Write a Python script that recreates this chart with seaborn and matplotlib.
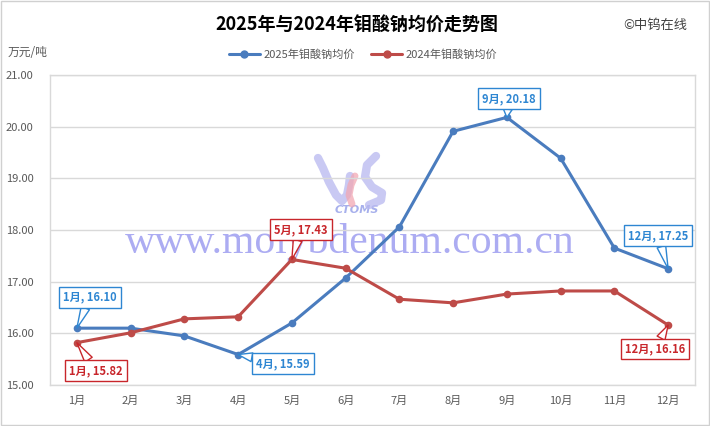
import numpy as np
import pandas as pd
import matplotlib
matplotlib.use("Agg")
import matplotlib.pyplot as plt
import seaborn as sns

months = ["1月", "2月", "3月", "4月", "5月", "6月", "7月", "8月", "9月", "10月", "11月", "12月"]
price_2025 = [16.10, 16.10, 15.95, 15.59, 16.20, 17.07, 18.06, 19.91, 20.18, 19.39, 17.65, 17.25]
price_2024 = [15.82, 16.01, 16.28, 16.32, 17.43, 17.26, 16.66, 16.59, 16.76, 16.82, 16.82, 16.16]
series_names = ["2025年钼酸钠均价", "2024年钼酸钠均价"]

# which points get a callout, and where the box sits (pixel offset from the point)
callouts_2025 = {0: (13, 31), 3: (45, -9), 8: (2, 19), 11: (-10, 33)}
callouts_2024 = {0: (19, -28), 4: (9, 30), 11: (-13, -24)}

blue = "#4A7CBE"
red = "#BE4B48"
blue_txt = "#2E86D2"
red_txt = "#C8262B"

df = pd.DataFrame({
    "month": months * 2,
    "price": price_2025 + price_2024,
    "series": [series_names[0]] * 12 + [series_names[1]] * 12,
})
df["idx"] = df.groupby("series").cumcount()

sns.set_style("white")
plt.rcParams["font.family"] = ["Noto Sans CJK SC", "DejaVu Sans"]

fig = plt.figure(figsize=(7.1, 4.26), dpi=100)
ax = fig.add_axes([50 / 710, 41 / 426, 645 / 710, 310 / 426])

# watermark behind the data
ax.text(0.465, 0.46, "www.molybdenum.com.cn", transform=ax.transAxes,
        ha="center", va="center", fontsize=30, family="Liberation Serif",
        color="#9090EE", alpha=0.75, zorder=0)
ax.text(0.475, 0.565, "CTOMS", transform=ax.transAxes, ha="center", va="center",
        fontsize=8, fontstyle="italic", fontweight="bold", family="DejaVu Sans",
        color="#A7B0EC", zorder=0)

# rough CTOMS logo strokes (pixel coords of the picture, converted to axes fractions)
def logo_stroke(pts, color, lw):
    xs = [(p[0] - 50) / 645 for p in pts]
    ys = [(385 - p[1]) / 310 for p in pts]
    ax.plot(xs, ys, transform=ax.transAxes, color=color, lw=lw, alpha=0.75,
            solid_capstyle="round", solid_joinstyle="round", zorder=0)

logo_stroke([(318, 158), (323, 168), (329, 182), (336, 195), (342, 201), (347, 195),
             (349, 185), (350, 176)], "#B8B8F0", 6)
logo_stroke([(352, 204), (349, 195), (351, 185), (355, 176)], "#F2A8B4", 5)
logo_stroke([(376, 156), (367, 165), (365, 177), (372, 187), (382, 193), (381, 200),
             (369, 205)], "#B8B8F0", 6)

sns.lineplot(data=df, x="idx", y="price", hue="series", palette=[blue, red],
             marker="o", markersize=5.5, markeredgewidth=0, linewidth=2.2,
             ax=ax, legend=False, zorder=3)

def add_callouts(values, spots, edge, txt):
    for i, (dx, dy) in spots.items():
        ax.annotate(f"{months[i]}, {values[i]:.2f}", xy=(i, values[i]),
                    xytext=(dx, dy), textcoords="offset pixels",
                    ha="center", va="center", fontsize=8, fontweight="bold",
                    color=txt, zorder=5,
                    bbox=dict(boxstyle="square,pad=0.35", fc="white", ec=edge, lw=1),
                    arrowprops=dict(arrowstyle="wedge,tail_width=0.8,shrink_factor=0.5",
                                    fc="white", ec=edge, lw=1, shrinkA=0, shrinkB=0))

add_callouts(price_2025, callouts_2025, blue_txt, blue_txt)
add_callouts(price_2024, callouts_2024, red_txt, red_txt)

ax.set_xlim(-0.5, 11.5)
ax.set_ylim(15, 21)
ax.set_xticks(range(12))
ax.set_xticklabels(months)
ax.set_yticks(np.arange(15, 21.5, 1))
ax.set_yticklabels([f"{v:.2f}" for v in np.arange(15, 21.5, 1)])
ax.tick_params(axis="both", labelsize=8, colors="#595959", length=0)
ax.tick_params(axis="x", pad=8)
ax.tick_params(axis="y", pad=12)
ax.set_xlabel("")
ax.set_ylabel("")
ax.grid(axis="y", color="#D9D9D9", lw=1)
for s in ax.spines.values():
    s.set_color("#D9D9D9")
    s.set_linewidth(1)

# legend
handles = [plt.Line2D([], [], color=c, lw=2.2, marker="o", markersize=5) for c in (blue, red)]
fig.legend(handles, series_names, loc="center", bbox_to_anchor=(363 / 710, 1 - 55 / 426),
           ncol=2, frameon=False, fontsize=8, handlelength=2.8, columnspacing=1.5,
           handletextpad=0.3, labelcolor="#595959")

fig.text(357 / 710, 1 - 25 / 426, "2025年与2024年钼酸钠均价走势图", ha="center", va="center",
         fontsize=13, fontweight="bold", color="black")
fig.text(655 / 710, 1 - 25 / 426, "©中钨在线", ha="center", va="center",
         fontsize=9.5, color="#404040")
fig.text(8 / 710, 1 - 52 / 426, "万元/吨", ha="left", va="center",
         fontsize=8.5, color="#595959")

# outer frame
fig.patches.append(plt.Rectangle((0.002, 0.003), 0.996, 0.994, transform=fig.transFigure,
                                 fill=False, ec="#D0D0D0", lw=1))

fig.savefig("out.png", dpi=100)
